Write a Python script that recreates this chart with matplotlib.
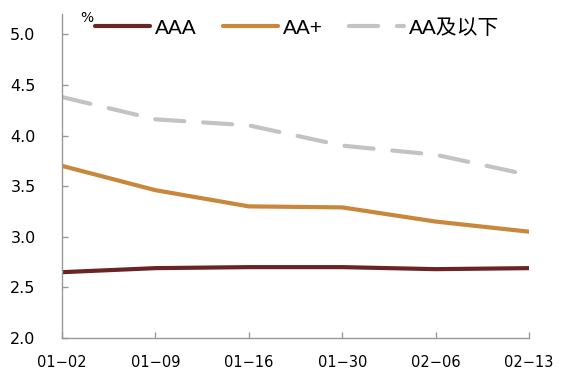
import matplotlib
matplotlib.use("Agg")
import matplotlib.pyplot as plt
import numpy as np

plt.rcParams['font.family'] = ['DejaVu Sans', 'Noto Sans CJK SC']

dates = ["01-02", "01-09", "01-16", "01-30", "02-06", "02-13"]
aaa = [2.65, 2.69, 2.70, 2.70, 2.68, 2.69]
aa_plus = [3.70, 3.46, 3.30, 3.29, 3.15, 3.05]
aa_below = [4.38, 4.16, 4.10, 3.90, 3.81, 3.61]
yticks = [2.0, 2.5, 3.0, 3.5, 4.0, 4.5, 5.0]

fig = plt.figure(figsize=(5.79, 3.77), dpi=100)
ax = fig.add_axes([62/579, 1-338/377, (529-62)/579, (338-14)/377])

x = np.arange(len(dates))
ax.plot(x, aaa, color="#6B2424", lw=3, solid_capstyle="round", label="AAA")
ax.plot(x, aa_plus, color="#C8873A", lw=3, solid_capstyle="round", label="AA+")
ax.plot(x, aa_below, color="#C3C3C3", lw=3, dashes=(7, 4.5), dash_capstyle="round", label="AA及以下")

ax.set_xlim(0, len(dates)-1)
ax.set_ylim(2.0, 5.2)
ax.set_yticks(yticks)
ax.set_yticklabels([f"{v:.1f}" for v in yticks], fontsize=11.5)
ax.set_xticks(x)
ax.set_xticklabels([d.replace("-", "−") for d in dates], fontsize=10.5)

for s in ["top", "right"]:
    ax.spines[s].set_visible(False)
for s in ["left", "bottom"]:
    ax.spines[s].set_color("#999999")
    ax.spines[s].set_linewidth(1)
ax.tick_params(axis="both", direction="in", length=4, color="#999999", width=1)
ax.tick_params(axis="x", pad=12)
ax.tick_params(axis="y", pad=19)

fig.text(80/579, 1-18/377, "%", fontsize=10, ha="left", va="center")

leg = fig.legend(*ax.get_legend_handles_labels(), loc="center left",
                 bbox_to_anchor=(95/579, 1-28/377), ncol=3, frameon=False,
                 prop={"family": ["Liberation Sans", "Noto Sans CJK SC"], "size": 15},
                 handlelength=2.64, columnspacing=1.25, handletextpad=0.24,
                 borderaxespad=0, borderpad=0)

fig.savefig("out.png", dpi=100)
